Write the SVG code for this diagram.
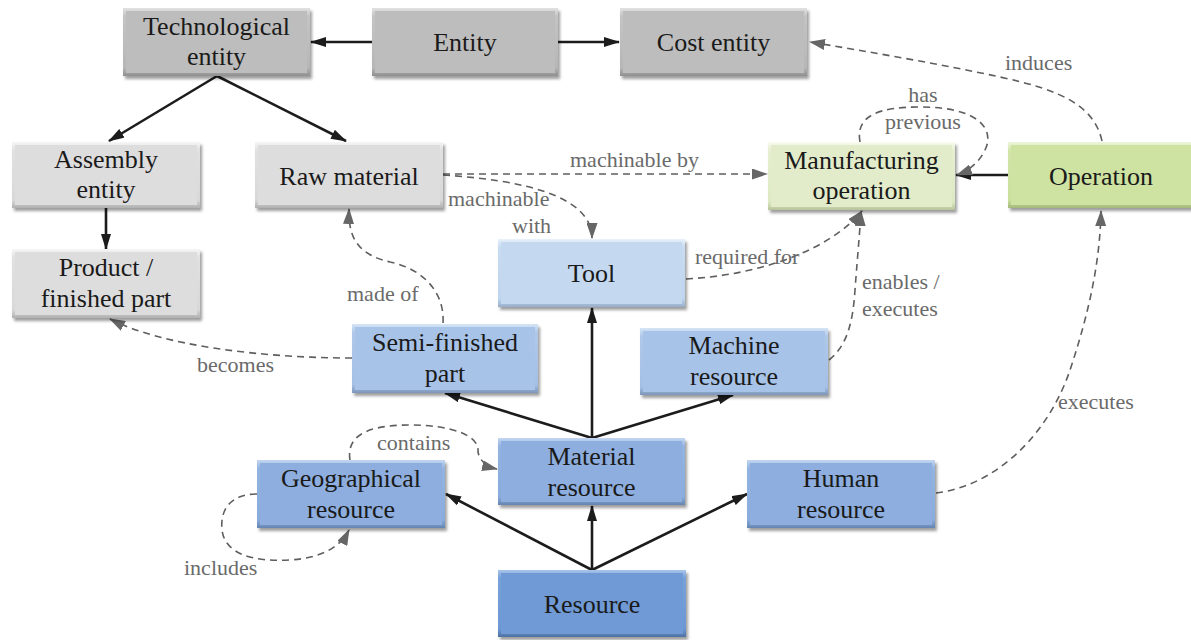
<svg xmlns="http://www.w3.org/2000/svg" width="1191" height="640" viewBox="0 0 1191 640" font-family="'Liberation Serif', 'Times New Roman', serif">
  <style>
    .node text { font-size: 26px; fill: #1a1a1a; text-anchor: middle; }
    .node .box { filter: url(#shadow); }
    .solid { fill: none; stroke: #1c1c1c; stroke-width: 2.6; marker-end: url(#arrowSolid); }
    .dash { fill: none; stroke: #5e5e5e; stroke-width: 1.6; stroke-dasharray: 7 5; marker-end: url(#arrowDash); }
    .lbl { font-size: 22px; fill: #6a6a6a; }
    .mid { text-anchor: middle; }
  </style>
  <defs>
    <filter id="shadow" x="-10%" y="-15%" width="125%" height="140%">
      <feDropShadow dx="2" dy="3" stdDeviation="1.8" flood-color="#000" flood-opacity="0.38"/>
    </filter>
    <marker id="arrowSolid" viewBox="0 0 16 10" refX="15" refY="5" markerWidth="16" markerHeight="10" markerUnits="userSpaceOnUse" orient="auto">
      <path d="M0,0 L16,5 L0,10 z" fill="#1c1c1c"/>
    </marker>
    <marker id="arrowDash" viewBox="0 0 16 11" refX="15" refY="5.5" markerWidth="16" markerHeight="11" markerUnits="userSpaceOnUse" orient="auto">
      <path d="M0,0 L16,5.5 L0,11 z" fill="#666"/>
    </marker>
    <!-- bevel frames: light top, darker bottom -->
    <linearGradient id="bvGray" x1="0" y1="0" x2="0" y2="1">
      <stop offset="0" stop-color="#e2e2e2"/><stop offset="0.12" stop-color="#c4c4c4"/><stop offset="0.88" stop-color="#b6b6b6"/><stop offset="1" stop-color="#8f8f8f"/>
    </linearGradient>
    <linearGradient id="bvLight" x1="0" y1="0" x2="0" y2="1">
      <stop offset="0" stop-color="#f6f6f6"/><stop offset="0.12" stop-color="#e2e1e1"/><stop offset="0.88" stop-color="#d9d8d8"/><stop offset="1" stop-color="#b0b0b0"/>
    </linearGradient>
    <linearGradient id="bvPale" x1="0" y1="0" x2="0" y2="1">
      <stop offset="0" stop-color="#f7fbee"/><stop offset="0.12" stop-color="#e6efd0"/><stop offset="0.88" stop-color="#dde9c3"/><stop offset="1" stop-color="#b6c49a"/>
    </linearGradient>
    <linearGradient id="bvGreen" x1="0" y1="0" x2="0" y2="1">
      <stop offset="0" stop-color="#eef6dc"/><stop offset="0.12" stop-color="#d3e5ab"/><stop offset="0.88" stop-color="#c9df9a"/><stop offset="1" stop-color="#a3b87a"/>
    </linearGradient>
    <linearGradient id="bvSky" x1="0" y1="0" x2="0" y2="1">
      <stop offset="0" stop-color="#e8f1fb"/><stop offset="0.12" stop-color="#c8dbf1"/><stop offset="0.88" stop-color="#bfd4ee"/><stop offset="1" stop-color="#97adc9"/>
    </linearGradient>
    <linearGradient id="bvBlue1" x1="0" y1="0" x2="0" y2="1">
      <stop offset="0" stop-color="#d6e4f6"/><stop offset="0.12" stop-color="#afc8ea"/><stop offset="0.88" stop-color="#a4c0e6"/><stop offset="1" stop-color="#7d96ba"/>
    </linearGradient>
    <linearGradient id="bvBlue2" x1="0" y1="0" x2="0" y2="1">
      <stop offset="0" stop-color="#c4d7f1"/><stop offset="0.12" stop-color="#93b4e0"/><stop offset="0.88" stop-color="#89acdc"/><stop offset="1" stop-color="#6584b0"/>
    </linearGradient>
    <linearGradient id="bvBlue3" x1="0" y1="0" x2="0" y2="1">
      <stop offset="0" stop-color="#a9c4ea"/><stop offset="0.12" stop-color="#77a1d9"/><stop offset="0.88" stop-color="#6c98d4"/><stop offset="1" stop-color="#4e71a3"/>
    </linearGradient>
  </defs>

  <rect width="1191" height="640" fill="#ffffff"/>

  <!-- connectors -->
  <g id="connectors">
    <!-- specialisation links -->
    <path class="solid" d="M372,42 L311,42"/>
    <path class="solid" d="M558,42 L619,42"/>
    <path class="solid" d="M217,76 L109,141"/>
    <path class="solid" d="M217,76 L346,141"/>
    <path class="solid" d="M106,208 L106,249"/>
    <path class="solid" d="M1008,175 L956,175"/>
    <path class="solid" d="M592,438 L445,393"/>
    <path class="solid" d="M592,438 L592,308"/>
    <path class="solid" d="M592,438 L733,395"/>
    <path class="solid" d="M592,570 L446,494"/>
    <path class="solid" d="M592,570 L592,506"/>
    <path class="solid" d="M592,570 L747,494"/>

    <!-- relations -->
    <path class="dash" d="M1102,141 C1094,105 1060,90 1000,77 C940,64 870,52 810,42"/>
    <path class="dash" d="M860,142 C855,115 880,107 920,107 C980,107 995,130 985,150 C978,165 965,172 957,175"/>
    <path class="dash" d="M443,174 L767,174"/>
    <path class="dash" d="M443,175 C520,180 592,195 592,238"/>
    <path class="dash" d="M686,279 C760,275 830,250 862,211"/>
    <path class="dash" d="M829,360 C848,345 853,320 855,290 C858,250 860,230 861,211"/>
    <path class="dash" d="M936,493 C1000,485 1050,430 1070,370 C1090,310 1100,260 1101,211"/>
    <path class="dash" d="M443,323 C445,290 420,268 390,262 C360,255 348,240 349,209"/>
    <path class="dash" d="M352,358 C260,358 160,345 110,319"/>
    <path class="dash" d="M350,460 C345,430 380,425 410,425 C450,425 480,435 478,452 C480,462 488,467 497,469"/>
    <path class="dash" d="M257,494 C230,494 220,510 222,530 C225,555 255,562 290,560 C320,558 340,548 349,530"/>

    <text class="lbl" x="1005" y="70">induces</text>
    <text class="lbl mid" x="923" y="102">has</text>
    <text class="lbl mid" x="923" y="129">previous</text>
    <text class="lbl" x="570" y="167">machinable by</text>
    <text class="lbl" x="448" y="206">machinable</text>
    <text class="lbl" x="512" y="233">with</text>
    <text class="lbl" x="695" y="264">required for</text>
    <text class="lbl" x="862" y="289">enables /</text>
    <text class="lbl" x="862" y="316">executes</text>
    <text class="lbl" x="1058" y="409">executes</text>
    <text class="lbl" x="347" y="301">made of</text>
    <text class="lbl" x="197" y="372">becomes</text>
    <text class="lbl" x="377" y="450">contains</text>
    <text class="lbl" x="184" y="575">includes</text>
  </g>

  <!-- nodes -->
  <g id="technological-entity" class="node">
    <rect class="box" x="123" y="8" width="187" height="68" fill="url(#bvGray)"/>
    <rect x="126" y="11" width="181" height="62" fill="#bdbdbd"/>
    <text x="216.5" y="35">Technological</text>
    <text x="216.5" y="65">entity</text>
  </g>
  <g id="entity" class="node">
    <rect class="box" x="372" y="8" width="186" height="68" fill="url(#bvGray)"/>
    <rect x="375" y="11" width="180" height="62" fill="#bdbdbd"/>
    <text x="465" y="51">Entity</text>
  </g>
  <g id="cost-entity" class="node">
    <rect class="box" x="620" y="8" width="187" height="68" fill="url(#bvGray)"/>
    <rect x="623" y="11" width="181" height="62" fill="#bdbdbd"/>
    <text x="713.5" y="51">Cost entity</text>
  </g>
  <g id="assembly-entity" class="node">
    <rect class="box" x="12" y="142" width="188" height="66" fill="url(#bvLight)"/>
    <rect x="15" y="145" width="182" height="60" fill="#dedddd"/>
    <text x="106" y="168">Assembly</text>
    <text x="106" y="198">entity</text>
  </g>
  <g id="raw-material" class="node">
    <rect class="box" x="255" y="142" width="188" height="66" fill="url(#bvLight)"/>
    <rect x="258" y="145" width="182" height="60" fill="#dedddd"/>
    <text x="349" y="184.5">Raw material</text>
  </g>
  <g id="product" class="node">
    <rect class="box" x="12" y="249" width="188" height="69" fill="url(#bvLight)"/>
    <rect x="15" y="252" width="182" height="63" fill="#dedddd"/>
    <text x="106" y="276">Product /</text>
    <text x="106" y="307">finished part</text>
  </g>
  <g id="manufacturing-operation" class="node">
    <rect class="box" x="768" y="142" width="187" height="68" fill="url(#bvPale)"/>
    <rect x="771" y="145" width="181" height="62" fill="#e2ecca"/>
    <text x="861.5" y="169">Manufacturing</text>
    <text x="861.5" y="199">operation</text>
  </g>
  <g id="operation" class="node">
    <rect class="box" x="1008" y="142" width="190" height="66" fill="url(#bvGreen)"/>
    <rect x="1011" y="145" width="184" height="60" fill="#cee2a2"/>
    <text x="1101" y="184.5">Operation</text>
  </g>
  <g id="tool" class="node">
    <rect class="box" x="498" y="239" width="187" height="68" fill="url(#bvSky)"/>
    <rect x="501" y="242" width="181" height="62" fill="#c4d8f0"/>
    <text x="591.5" y="282">Tool</text>
  </g>
  <g id="semi-finished-part" class="node">
    <rect class="box" x="352" y="324" width="186" height="69" fill="url(#bvBlue1)"/>
    <rect x="355" y="327" width="180" height="63" fill="#a8c3e8"/>
    <text x="445" y="351">Semi-finished</text>
    <text x="445" y="382">part</text>
  </g>
  <g id="machine-resource" class="node">
    <rect class="box" x="640" y="328" width="188" height="67" fill="url(#bvBlue1)"/>
    <rect x="643" y="331" width="182" height="61" fill="#a8c3e8"/>
    <text x="734" y="354">Machine</text>
    <text x="734" y="385">resource</text>
  </g>
  <g id="material-resource" class="node">
    <rect class="box" x="498" y="438" width="187" height="67" fill="url(#bvBlue2)"/>
    <rect x="501" y="441" width="181" height="61" fill="#8daede"/>
    <text x="591.5" y="465">Material</text>
    <text x="591.5" y="496">resource</text>
  </g>
  <g id="geographical-resource" class="node">
    <rect class="box" x="257" y="460" width="188" height="68" fill="url(#bvBlue2)"/>
    <rect x="260" y="463" width="182" height="62" fill="#8daede"/>
    <text x="351" y="487">Geographical</text>
    <text x="351" y="518">resource</text>
  </g>
  <g id="human-resource" class="node">
    <rect class="box" x="747" y="460" width="188" height="68" fill="url(#bvBlue2)"/>
    <rect x="750" y="463" width="182" height="62" fill="#8daede"/>
    <text x="841" y="487">Human</text>
    <text x="841" y="518">resource</text>
  </g>
  <g id="resource" class="node">
    <rect class="box" x="498" y="570" width="188" height="67" fill="url(#bvBlue3)"/>
    <rect x="501" y="573" width="182" height="61" fill="#6f9ad5"/>
    <text x="592" y="613">Resource</text>
  </g>
</svg>
